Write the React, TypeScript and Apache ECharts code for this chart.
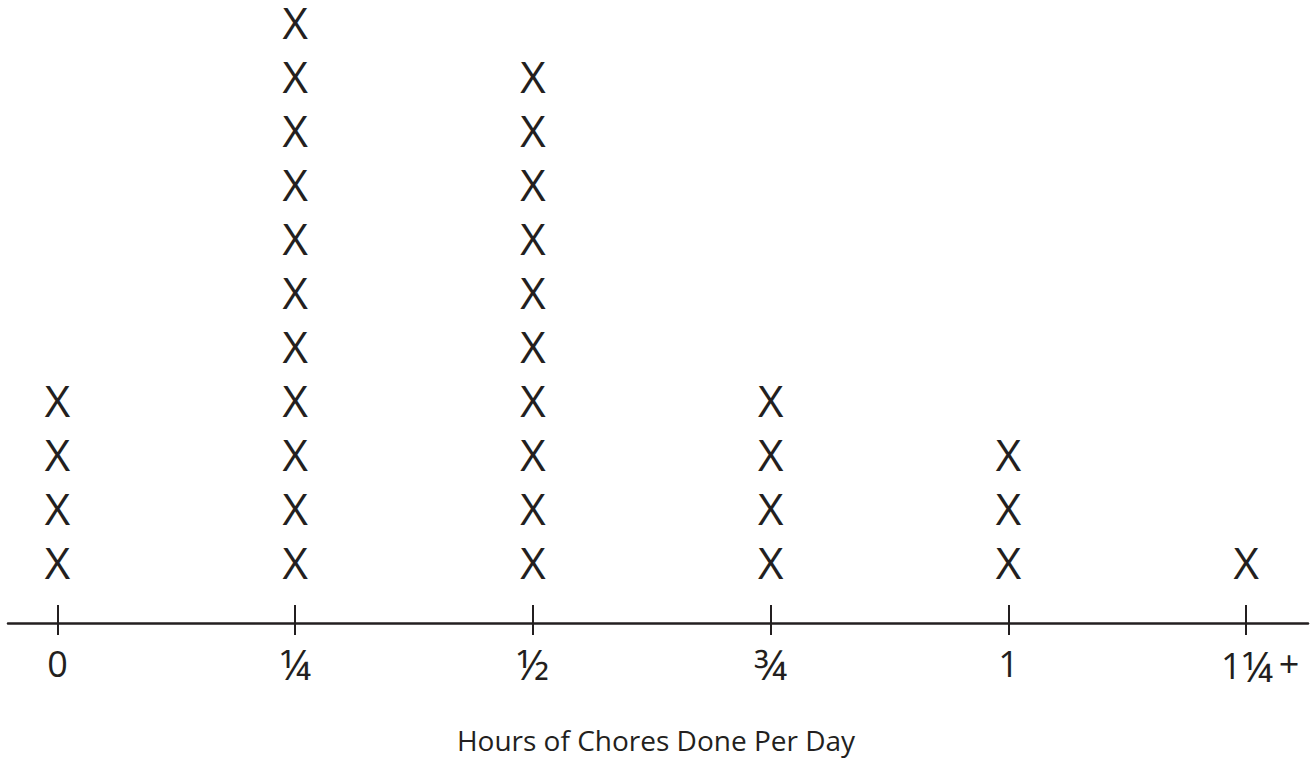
import React, { useEffect, useRef } from "react";
import * as echarts from "echarts";

const hourValues = [0, 0.25, 0.5, 0.75, 1, 1.25];
const counts = [4, 11, 10, 4, 3, 1];
const tickLabels = ["0", "¼", "½", "¾", "1", "1¼+"];
const axisTitle = "Hours of Chores Done Per Day";

const INK = "#231f20";
const FONT = "'Open Sans', 'Noto Sans', sans-serif";

export default function App() {
  const ref = useRef<HTMLDivElement>(null);
  useEffect(() => {
    if (!ref.current) return;
    const chart = echarts.init(ref.current, null, { renderer: "svg" });
    const points: number[][] = [];
    hourValues.forEach((v, i) => {
      for (let k = 1; k <= counts[i]; k++) points.push([v, k]);
    });
    const labelMap: Record<string, string> = {};
    hourValues.forEach((v, i) => (labelMap[String(v)] = tickLabels[i]));
    const xMin = -0.052;
    const xMax = 1.315;
    const fracChars = "¼½¾";
    chart.setOption({
      animation: false,
      title: {
        text: axisTitle,
        left: "center",
        top: 721,
        textStyle: { fontFamily: FONT, fontSize: 28, fontWeight: "normal", color: INK },
      },
      grid: { left: 8, right: 4, top: 0, bottom: 136 },
      xAxis: [
        {
          type: "value",
          min: xMin,
          max: xMax,
          axisLine: { show: true, onZero: false, lineStyle: { color: INK, width: 2.5 } },
          axisTick: {
            show: true,
            inside: true,
            length: 18,
            customValues: hourValues,
            lineStyle: { color: INK, width: 2 },
          },
          axisLabel: {
            show: true,
            customValues: hourValues,
            margin: 20,
            fontFamily: FONT,
            fontSize: 36,
            color: INK,
            formatter: (v: number) => {
              const t = labelMap[String(v)] ?? "";
              let out = "";
              for (const ch of t) {
                if (fracChars.includes(ch)) out += "{f|" + ch + "}";
                else if (ch === "+") out += "{p|+}";
                else out += "{d|" + ch + "}";
              }
              if (t.endsWith("+")) out = "{s|}" + out;
              return out;
            },
            rich: {
              d: { fontFamily: FONT, fontSize: 36, color: INK, height: 40 },
              f: { fontFamily: FONT, fontSize: 42, color: INK, height: 40 },
              p: { fontFamily: FONT, fontSize: 36, color: INK, height: 40, padding: [0, 0, 4, 6] },
              s: { width: 28, height: 40 },
            },
          },
          splitLine: { show: false },
        },
        {
          type: "value",
          min: xMin,
          max: xMax,
          position: "bottom",
          axisLine: { show: false, onZero: false },
          axisTick: {
            show: true,
            inside: false,
            length: 12,
            customValues: hourValues,
            lineStyle: { color: INK, width: 2 },
          },
          axisLabel: { show: false },
          splitLine: { show: false },
        },
      ],
      yAxis: {
        type: "value",
        min: -0.134,
        max: 11.407,
        show: false,
        splitLine: { show: false },
      },
      series: [
        {
          type: "scatter",
          data: points,
          symbolSize: 1,
          itemStyle: { color: "rgba(0,0,0,0)" },
          label: {
            show: true,
            position: "inside",
            formatter: "X",
            fontFamily: FONT,
            fontSize: 44,
            lineHeight: 34,
            color: INK,
            opacity: 1,
            textBorderWidth: 0,
            textBorderColor: "transparent",
          },
        },
      ],
    });
    return () => chart.dispose();
  }, []);
  return (
    <div
      ref={ref}
      style={{ position: "fixed", left: 0, top: 0, width: 1312, height: 759, background: "#fff" }}
    />
  );
}
